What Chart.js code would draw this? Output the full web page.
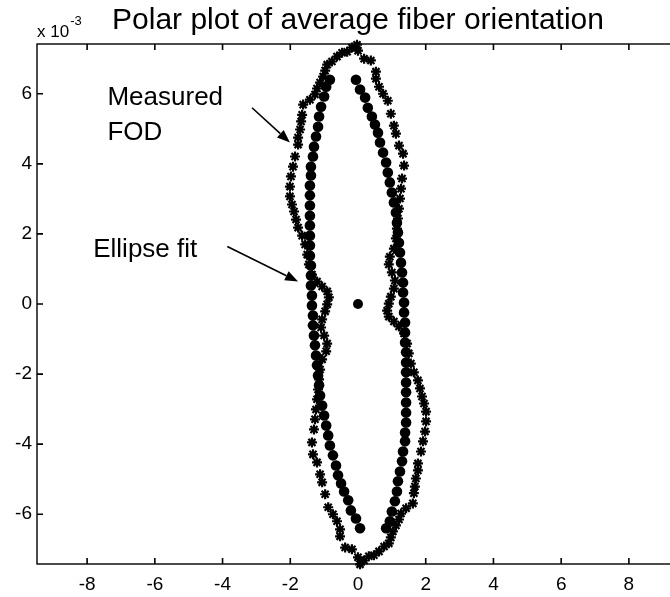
<!DOCTYPE html>
<html>
<head>
<meta charset="utf-8">
<script src="https://cdn.jsdelivr.net/npm/chart.js@4/dist/chart.umd.min.js"></script>
<style>
  html, body { margin: 0; padding: 0; background: #fff; overflow: hidden; width: 670px; height: 597px; }
  canvas { display: block; }
</style>
</head>
<body>
<canvas id="c" width="700" height="597"></canvas>
<script>
// Axis tick values (y values are in units of 1e-3)
const xTicks = [-8, -6, -4, -2, 0, 2, 4, 6, 8];
const yTicks = [-6, -4, -2, 0, 2, 4, 6];

// Ellipse fit: right half (top to bottom), then left half (bottom to top)
const fitX = [
  -0.06, 0.06, 0.21, 0.29, 0.41, 0.50, 0.59, 0.65, 0.74, 0.83, 0.88, 0.94, 1.00, 1.06, 1.12, 1.15,
  1.18, 1.21, 1.24, 1.27, 1.30, 1.33, 1.33, 1.36, 1.36, 1.39, 1.39, 1.39, 1.42, 1.42, 1.42, 1.42,
  1.42, 1.42, 1.42, 1.42, 1.39, 1.39, 1.33, 1.30, 1.24, 1.18, 1.15, 1.09, 1.00, 0.94, 0.83,
  0.06, -0.06, -0.21, -0.29, -0.41, -0.50, -0.59, -0.65, -0.74, -0.83, -0.88, -0.94, -1.00, -1.06, -1.12, -1.15,
  -1.18, -1.21, -1.24, -1.27, -1.30, -1.33, -1.33, -1.36, -1.36, -1.39, -1.39, -1.39, -1.42, -1.42, -1.42, -1.42,
  -1.42, -1.42, -1.42, -1.42, -1.39, -1.39, -1.33, -1.30, -1.24, -1.18, -1.15, -1.09, -1.00, -0.94, -0.83
];
const fitY = [
  6.40, 6.12, 5.89, 5.60, 5.35, 5.12, 4.89, 4.61, 4.32, 4.04, 3.75, 3.47, 3.18, 2.90, 2.61, 2.32,
  2.04, 1.75, 1.47, 1.18, 0.90, 0.61, 0.33, 0.04, -0.24, -0.53, -0.81, -1.10, -1.38, -1.67, -1.95, -2.24,
  -2.52, -2.81, -3.10, -3.38, -3.67, -3.92, -4.21, -4.49, -4.78, -5.06, -5.35, -5.63, -5.92, -6.20, -6.40,
  -6.40, -6.12, -5.89, -5.60, -5.35, -5.12, -4.89, -4.61, -4.32, -4.04, -3.75, -3.47, -3.18, -2.90, -2.61, -2.32,
  -2.04, -1.75, -1.47, -1.18, -0.90, -0.61, -0.33, -0.04, 0.24, 0.53, 0.81, 1.10, 1.38, 1.67, 1.95, 2.24,
  2.52, 2.81, 3.10, 3.38, 3.67, 3.92, 4.21, 4.49, 4.78, 5.06, 5.35, 5.63, 5.92, 6.20, 6.40
];

// Centre point of the polar plot
const originX = [0];
const originY = [0];

// Measured FOD: left half (top to bottom), then right half (bottom to top)
const fodX = [
  -0.03, -0.18, -0.32, -0.47, -0.62, -0.77, -0.91, -0.97, -1.03, -1.12, -1.21, -1.27, -1.42, -1.62, -1.65, -1.68,
  -1.71, -1.77, -1.77, -1.86, -1.92, -1.98, -2.01, -2.01, -1.95, -1.89, -1.83, -1.77, -1.65, -1.56, -1.50, -1.45,
  -1.36, -1.21, -1.06, -0.91, -0.86, -0.91, -0.97, -1.06, -1.09, -1.00, -0.91, -0.94, -1.06, -1.12, -1.15, -1.18,
  -1.21, -1.24, -1.27, -1.30, -1.36, -1.33, -1.21, -1.12, -1.06, -0.97, -0.88, -0.74, -0.62, -0.53, -0.53, -0.38,
  -0.18, 0.00, 0.06,
  0.18, 0.32, 0.47, 0.62, 0.77, 0.91, 0.97, 1.03, 1.12, 1.21, 1.27, 1.42, 1.62, 1.65, 1.68, 1.71,
  1.77, 1.77, 1.86, 1.92, 1.98, 2.01, 2.01, 1.95, 1.89, 1.83, 1.77, 1.65, 1.56, 1.50, 1.45, 1.36,
  1.21, 1.06, 0.91, 0.86, 0.91, 0.97, 1.06, 1.09, 1.00, 0.91, 0.94, 1.06, 1.12, 1.15, 1.18, 1.21,
  1.24, 1.27, 1.30, 1.36, 1.33, 1.21, 1.12, 1.06, 0.97, 0.88, 0.74, 0.62, 0.53, 0.53, 0.38, 0.18, 0.00
];
const fodY = [
  7.40, 7.32, 7.20, 7.17, 7.06, 6.92, 6.83, 6.66, 6.49, 6.32, 6.15, 5.98, 5.83, 5.69, 5.40, 5.21,
  4.98, 4.75, 4.55, 4.21, 3.92, 3.64, 3.35, 3.07, 2.84, 2.64, 2.41, 2.18, 1.95, 1.70, 1.41, 1.13,
  0.84, 0.64, 0.50, 0.36, 0.19, -0.01, -0.21, -0.44, -0.67, -0.90, -1.13, -1.35, -1.58, -1.87, -2.15, -2.44,
  -2.72, -3.01, -3.29, -3.58, -3.95, -4.29, -4.52, -4.86, -5.09, -5.43, -5.80, -6.00, -6.20, -6.43, -6.63, -6.95,
  -7.00, -7.23, -7.43,
  -7.32, -7.20, -7.17, -7.06, -6.92, -6.83, -6.66, -6.49, -6.32, -6.15, -5.98, -5.83, -5.69, -5.40, -5.21, -4.98,
  -4.75, -4.55, -4.21, -3.92, -3.64, -3.35, -3.07, -2.84, -2.64, -2.41, -2.18, -1.95, -1.70, -1.41, -1.13, -0.84,
  -0.64, -0.50, -0.36, -0.19, 0.01, 0.21, 0.44, 0.67, 0.90, 1.13, 1.35, 1.58, 1.87, 2.15, 2.44, 2.72,
  3.01, 3.29, 3.58, 3.95, 4.29, 4.52, 4.86, 5.09, 5.43, 5.80, 6.00, 6.20, 6.43, 6.63, 6.95, 7.00, 7.23
];

const toPoints = (xs, ys) => xs.map((x, i) => ({ x: x, y: ys[i] }));
const FONT = "'Liberation Sans', Arial, Helvetica, sans-serif";

// Text labels with arrows, placed in data coordinates
const notes = [
  { lines: ['Measured', 'FOD'], x: -7.40, y: 5.69, lineStep: 1.0, from: [-3.13, 5.60], to: [-2.01, 4.61] },
  { lines: ['Ellipse fit'], x: -7.82, y: 1.35, lineStep: 1.0, from: [-3.86, 1.64], to: [-1.77, 0.64] }
];

function drawArrow(ctx, x0, y0, x1, y1) {
  const ang = Math.atan2(y1 - y0, x1 - x0);
  const len = 13, half = 5;
  const bx = x1 - len * Math.cos(ang), by = y1 - len * Math.sin(ang);
  ctx.beginPath();
  ctx.moveTo(x0, y0);
  ctx.lineTo(bx, by);
  ctx.stroke();
  ctx.beginPath();
  ctx.moveTo(x1, y1);
  ctx.lineTo(bx + half * Math.sin(ang), by - half * Math.cos(ang));
  ctx.lineTo(bx - half * Math.sin(ang), by + half * Math.cos(ang));
  ctx.closePath();
  ctx.fill();
}

// Box frame with inward tick marks, exponent label and annotations
const framePlugin = {
  id: 'frame',
  beforeDatasetsDraw(chart) {
    const { ctx, chartArea: a, scales: { x, y } } = chart;
    ctx.save();
    ctx.strokeStyle = '#000';
    ctx.lineWidth = 1.4;
    ctx.strokeRect(a.left, a.top, a.right - a.left, a.bottom - a.top);
    const L = 6;
    ctx.lineWidth = 1.6;
    ctx.beginPath();
    xTicks.forEach(v => {
      const px = x.getPixelForValue(v);
      ctx.moveTo(px, a.bottom); ctx.lineTo(px, a.bottom - L);
      ctx.moveTo(px, a.top); ctx.lineTo(px, a.top + L);
    });
    yTicks.forEach(v => {
      const py = y.getPixelForValue(v);
      ctx.moveTo(a.left, py); ctx.lineTo(a.left + L, py);
      ctx.moveTo(a.right, py); ctx.lineTo(a.right - L, py);
    });
    ctx.stroke();

    ctx.fillStyle = '#000';
    ctx.textAlign = 'left';
    ctx.textBaseline = 'alphabetic';
    ctx.font = '17px ' + FONT;
    ctx.fillText('x 10', a.left, 37);
    const w = ctx.measureText('x 10').width;
    ctx.font = '13px ' + FONT;
    ctx.fillText('-3', a.left + w + 1, 25);
    ctx.restore();
  },
  afterDraw(chart) {
    const { ctx, scales: { x, y } } = chart;
    ctx.save();
    ctx.fillStyle = '#000';
    ctx.strokeStyle = '#000';
    ctx.lineWidth = 1.6;
    ctx.font = '26px ' + FONT;
    ctx.textAlign = 'left';
    ctx.textBaseline = 'alphabetic';
    notes.forEach(n => {
      n.lines.forEach((t, i) => {
        ctx.fillText(t, x.getPixelForValue(n.x), y.getPixelForValue(n.y - i * n.lineStep));
      });
      drawArrow(ctx,
        x.getPixelForValue(n.from[0]), y.getPixelForValue(n.from[1]),
        x.getPixelForValue(n.to[0]), y.getPixelForValue(n.to[1]));
    });
    ctx.restore();
  }
};

new Chart(document.getElementById('c'), {
  type: 'scatter',
  data: {
    datasets: [
      {
        label: 'Measured FOD',
        data: toPoints(fodX, fodY),
        pointStyle: 'star',
        pointRadius: 5,
        borderWidth: 2.2,
        borderColor: '#000',
        backgroundColor: '#000',
        clip: false
      },
      {
        label: 'Ellipse fit',
        data: toPoints(fitX, fitY),
        pointStyle: 'circle',
        pointRadius: 5.3,
        borderWidth: 0,
        backgroundColor: '#000',
        clip: false
      },
      {
        label: 'Origin',
        data: toPoints(originX, originY),
        pointStyle: 'circle',
        pointRadius: 5,
        borderWidth: 0,
        backgroundColor: '#000'
      }
    ]
  },
  options: {
    responsive: false,
    animation: false,
    events: [],
    layout: { padding: { left: 0, right: 21, top: 0, bottom: 0 } },
    plugins: {
      legend: { display: false },
      tooltip: { enabled: false },
      title: {
        display: true,
        text: 'Polar plot of average fiber orientation',
        fullSize: false,
        color: '#000',
        font: { family: FONT, size: 30, weight: 'normal' },
        padding: { top: 3, bottom: 5 }
      }
    },
    scales: {
      x: {
        type: 'linear',
        min: -9.48,
        max: 9.48,
        afterBuildTicks: s => { s.ticks = xTicks.map(v => ({ value: v })); },
        afterFit: s => { s.height = 33; },
        grid: { display: false, drawTicks: false },
        border: { display: false },
        ticks: { color: '#000', padding: 9, maxRotation: 0, font: { family: FONT, size: 19 } }
      },
      y: {
        type: 'linear',
        min: -7.42,
        max: 7.42,
        afterBuildTicks: s => { s.ticks = yTicks.map(v => ({ value: v })); },
        afterFit: s => { s.width = 37; },
        grid: { display: false, drawTicks: false },
        border: { display: false },
        ticks: { color: '#000', padding: 5, font: { family: FONT, size: 19 } }
      }
    }
  },
  plugins: [framePlugin]
});
</script>
</body>
</html>
